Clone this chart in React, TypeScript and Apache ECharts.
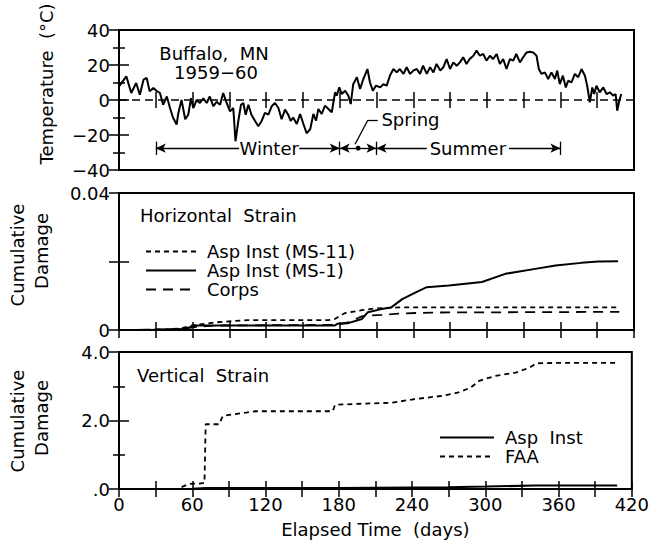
import React, { useEffect, useRef } from 'react';
import * as echarts from 'echarts';

const FONT = '"DejaVu Sans", sans-serif';
const FS = 18;

// ---------- Temperature (top panel) ----------
const tempDays = [
  0, 6, 10, 14, 17, 20, 22.6, 25, 28, 31, 33.4, 36, 39, 41.6, 44, 47, 48.4, 51, 54, 56.5,
  58.7, 60.6, 63.3, 66, 68.8, 71.5, 74, 77, 79.6, 82.4, 85, 87.8, 90.5, 93.2, 95, 97.3, 99.5,
  101.4, 103.3, 105.5, 108, 111, 113.6, 116.3, 119, 121.8, 124.5, 127.2, 130, 132.6, 135.4,
  138, 140, 142, 145, 147.7, 150.4, 153, 156, 158.5, 160.7, 162.6, 165.3, 168, 170.8, 173.5,
  176.2, 177.5, 179.7, 181.6, 184.4, 187, 189, 191, 194, 196.6, 199.3, 202.6, 204.7, 207,
  209.6, 213, 215.6, 218.3, 221, 223.8, 226.5, 229, 232, 234.6, 237.4, 240, 242.8, 245.5,
  248, 251, 253.7, 256.4, 259, 262, 264.5, 267.2, 270, 272.7, 275.4, 278, 280.7, 283.4, 286,
  289, 291.6, 294.3, 297, 299.7, 302.5, 305, 308, 310.6, 313.3, 316, 318.8, 321.5, 324, 327,
  329.6, 332.4, 335, 337.8, 340.5, 342.4, 344.6, 347.3, 350, 352.7, 355.5, 357.4, 359.5, 362,
  364.4, 366.3, 369, 371.8, 374.5, 377.2, 380, 381.8, 384, 386, 387.5, 389.4, 392, 395, 397.6,
  400.3, 403, 405, 406.3, 408, 409.6,
];
const tempValues = [
  7.8, 13.5, 4, 9.7, 3, 11.6, 12.6, 5, 6.9, 5, 4, -2.7, 2, -4.6, -10, -14, -7.4, 0, -11, -8.4,
  1, -4.6, 0, -1.7, 1, -1.7, 2, -3.6, -1, -2.7, 4, -1.7, -6.5, -4.6, -23.6, -12, -2.7,
  -1.7, -8.4, -2.7, -8.4, -12, -15, -12, -7.4, -8.4, -3.6, -1.7, -4.6, -11, -5.5,
  -8.4, -12, -10, -13.7, -8, -13.7, -19, -16.6, -8, -11.8, -5.1, -8, -3.2, -5.1, -7,
  4.4, 2.5, 7.2, 3.4, 5.3, 2.5, -2.3, 9, 13, 6.3, 12, 17.7, 10, 5.3,
  8.2, 7.2, 9, 8.2, 14, 17.7, 15.8, 17.7, 14.9, 18.7, 14.9, 16.8, 17.7, 14.9,
  19.6, 14.9, 18.7, 15.8, 20.6, 16.8, 18.7, 23.4, 17.7, 21.5, 19.6, 21.5, 24.4, 20.6, 23.4,
  25.3, 28.2, 25.3, 26.3, 22.5, 25.3, 23.4, 26.3, 20.6, 23.4, 17.7, 23.4, 22.5, 26.3, 21.5,
  24.4, 27.2, 27.6, 27.2, 25.3, 17.7, 14.9, 15.8, 12, 15.8, 12, 16.8, 9.1, 13.9,
  7.2, 11, 10.1, 14.9, 13, 17.7, 13.9, 8.2, -1.3, 7.2, 3.4, 8.2, 4.4, 7.2, 3.4,
  4.4, 2.5, 3.4, -6.1, -0.4, 3.4,
];

// season annotation (days / °C)
const seasonBounds = [30, 180, 210, 360];
const seasonArrowY = -27.5;
const seasonBarTop = -23.8;
const seasonBarBottom = -31.4;
const seasonArrows = [[98, 30], [147, 180], [195, 180], [195, 210], [251, 210], [318, 360]];
const seasonLabels = ['Winter', 'Summer'];
const seasonLabelDays = [122.5, 284.5];
const springDotDay = 195;
const springLeader = [[192.5, -25.3], [203, -11.4], [211, -11.4]];
const springLabelPos = [214, -11.4];

// ---------- Horizontal strain (middle panel) ----------
const ms1Days = [0, 30, 51, 59, 62, 176, 178, 187, 198, 203, 214, 222, 231, 242, 251, 269, 296, 315, 337, 356, 377, 391, 407];
const ms1Values = [0, 0.0001, 0.0003, 0.0008, 0.0013, 0.0013, 0.0018, 0.002, 0.0032, 0.0052, 0.0061, 0.0066, 0.009, 0.011, 0.0125, 0.013, 0.014, 0.0164, 0.0177, 0.0188, 0.0196, 0.02, 0.0201];
const ms11Days = [0, 30, 50, 59, 78, 105, 171, 176, 184, 198, 209, 228, 408];
const ms11Values = [0, 0.0001, 0.0004, 0.0013, 0.0022, 0.0029, 0.0029, 0.0032, 0.0049, 0.0058, 0.0063, 0.0066, 0.0066];
const corpsDays = [0, 30, 50, 59, 78, 176, 187, 198, 203, 214, 228, 255, 408];
const corpsValues = [0, 0.0001, 0.0003, 0.0008, 0.0013, 0.0015, 0.0022, 0.004, 0.0042, 0.0044, 0.0048, 0.0051, 0.0053];

// ---------- Vertical strain (bottom panel) ----------
const faaDays = [0, 48, 54, 58, 66, 70, 71, 82, 85, 93, 104, 112, 175, 177, 207, 224, 241, 265, 278, 288, 295, 308, 325, 336, 342, 356, 408];
const faaValues = [0, 0, 0.1, 0.15, 0.16, 0.18, 1.89, 1.89, 2.13, 2.18, 2.23, 2.27, 2.27, 2.46, 2.5, 2.52, 2.62, 2.72, 2.82, 2.96, 3.16, 3.3, 3.4, 3.54, 3.67, 3.68, 3.68];
const aspDays = [0, 60, 71, 180, 270, 300, 340, 408];
const aspValues = [0, 0.01, 0.03, 0.03, 0.05, 0.07, 0.1, 0.1];

// ---------- tick labels ----------
const dayTickValues = [0, 60, 120, 180, 240, 300, 360, 420];
const dayTickTexts = ['0', '60', '120', '180', '240', '300', '360', '420'];
const tempTickValues = [40, 20, 0, -20, -40];
const tempTickTexts = ['40', '20', '0', '−20', '−40'];
const hTickValues = [0.04, 0.02, 0];
const hTickTexts = ['0.04', '', '0'];
const vTickValues = [4, 2, 0];
const vTickTexts = ['4.0', '2.0', '.0'];

const pairs = (xs: number[], ys: number[]) => xs.map((x, i) => [x, ys[i]]);
const lookup = (vals: number[], texts: string[]) => (v: number) => {
  const i = vals.findIndex((t) => Math.abs(t - v) < 1e-9);
  return i >= 0 ? texts[i] : '';
};

const BLACK = '#000';

export default function App() {
  const ref = useRef<HTMLDivElement>(null);
  useEffect(() => {
    if (!ref.current) return;
    const chart = echarts.init(ref.current, undefined, { renderer: 'svg' });

    const gridBase = { left: 119, width: 515, show: true, borderColor: BLACK, borderWidth: 2, backgroundColor: 'transparent' };
    const tickStyle = { color: BLACK, width: 1.5 };
    const labelStyle = { color: BLACK, fontSize: FS, fontFamily: FONT };

    const xAxes: any[] = [];
    [0, 1, 2].forEach((g) => {
      xAxes.push({
        type: 'value', gridIndex: g, min: 0, max: 420, interval: 30, position: 'bottom',
        axisLine: { show: false },
        axisTick: { show: true, inside: true, length: 8, lineStyle: tickStyle },
        splitLine: { show: false },
        axisLabel: g === 2
          ? { show: true, margin: 6, ...labelStyle, showMinLabel: true, showMaxLabel: true, formatter: lookup(dayTickValues, dayTickTexts) }
          : { show: false },
        name: g === 2 ? 'Elapsed Time  (days)' : '',
        nameLocation: 'middle', nameGap: 31,
        nameTextStyle: labelStyle,
      });
      xAxes.push({
        type: 'value', gridIndex: g, min: 0, max: 420, interval: 30, position: 'top',
        axisLine: { show: false },
        axisTick: { show: true, inside: true, length: 8, lineStyle: tickStyle },
        splitLine: { show: false },
        axisLabel: { show: false },
      });
    });

    const yDefs = [
      { min: -40, max: 40, interval: 20, fmt: lookup(tempTickValues, tempTickTexts), minor: true },
      { min: 0, max: 0.04, interval: 0.02, fmt: lookup(hTickValues, hTickTexts), minor: false },
      { min: 0, max: 4, interval: 2, fmt: lookup(vTickValues, vTickTexts), minor: true },
    ];
    const yAxes: any[] = [];
    yDefs.forEach((d, g) => {
      [0, 1].forEach((side) => {
        yAxes.push({
          type: 'value', gridIndex: g, min: d.min, max: d.max, interval: d.interval,
          position: side === 0 ? 'left' : 'right',
          axisLine: { show: false },
          axisTick: { show: true, inside: true, length: 10, lineStyle: tickStyle },
          minorTick: { show: d.minor, splitNumber: 2, length: 6, lineStyle: tickStyle },
          splitLine: { show: false },
          minorSplitLine: { show: false },
          axisLabel: side === 0
            ? { show: true, margin: 9, ...labelStyle, showMinLabel: true, showMaxLabel: true, formatter: d.fmt }
            : { show: false },
        });
      });
    });

    const arrowLines: any[] = seasonArrows.map(([from, to]) => [
      { coord: [from, seasonArrowY], symbol: 'none' },
      { coord: [to, seasonArrowY], symbol: 'arrow', symbolSize: [7, 10] },
    ]);
    const barLines: any[] = seasonBounds.map((d) => [
      { coord: [d, seasonBarTop], symbol: 'none' },
      { coord: [d, seasonBarBottom], symbol: 'none' },
    ]);
    const leaderLines: any[] = springLeader.slice(0, -1).map((p, i) => [
      { coord: p, symbol: 'none' },
      { coord: springLeader[i + 1], symbol: 'none' },
    ]);

    const lineSeries = (name: string, xs: number[], ys: number[], idx: number, type: any, width: number) => ({
      name, type: 'line', xAxisIndex: idx, yAxisIndex: idx,
      data: pairs(xs, ys), showSymbol: false, symbol: 'none', silent: true,
      lineStyle: { color: BLACK, width, type },
      itemStyle: { color: BLACK },
      emphasis: { disabled: true },
    });

    const series: any[] = [
      {
        name: 'Temperature', type: 'line', xAxisIndex: 0, yAxisIndex: 0,
        data: pairs(tempDays, tempValues), showSymbol: false, symbol: 'none', silent: true,
        lineStyle: { color: BLACK, width: 2 }, itemStyle: { color: BLACK },
        emphasis: { disabled: true },
        markLine: {
          silent: true, symbol: ['none', 'none'], label: { show: false },
          lineStyle: { color: BLACK, width: 1.3, type: 'solid' },
          emphasis: { disabled: true },
          data: [
            { yAxis: 0, lineStyle: { type: [8, 5], width: 1.6, color: BLACK } },
            ...arrowLines, ...barLines, ...leaderLines,
          ],
        },
        markPoint: {
          silent: true, symbol: 'circle', symbolSize: 0,
          itemStyle: { color: BLACK },
          label: { show: true, position: 'inside', formatter: '{b}', color: BLACK, fontSize: FS, fontFamily: FONT },
          data: [
            ...seasonLabels.map((n, i) => ({ name: n, coord: [seasonLabelDays[i], seasonArrowY] })),
            { name: 'Spring', coord: springLabelPos, label: { position: 'right', distance: 0 } },
            { name: '', coord: [springDotDay, seasonArrowY], symbolSize: 5, label: { show: false } },
          ],
        },
      },
      lineSeries('Asp Inst (MS-11)', ms11Days, ms11Values, 2, [5, 4], 1.8),
      lineSeries('Asp Inst (MS-1)', ms1Days, ms1Values, 2, 'solid', 2),
      lineSeries('Corps', corpsDays, corpsValues, 2, [10, 7], 1.8),
      lineSeries('Asp  Inst', aspDays, aspValues, 4, 'solid', 2),
      lineSeries('FAA', faaDays, faaValues, 4, [5, 4], 1.8),
    ];

    const legendText = { color: BLACK, fontSize: FS, fontFamily: FONT, padding: [0, 0, 0, 6], lineHeight: 19 };
    const legendBase = {
      orient: 'vertical', itemHeight: 12, itemGap: 0, selectedMode: false,
      textStyle: legendText, padding: 0,
      itemStyle: { opacity: 0, borderWidth: 0 },
    };

    const vText = (text: string, x: number, y: number) => ({
      type: 'text', x, y, rotation: Math.PI / 2, silent: true,
      style: { text, fill: BLACK, fontSize: FS, fontFamily: FONT, align: 'center', verticalAlign: 'middle' },
    });
    const hText = (text: string, x: number, y: number, align: string) => ({
      type: 'text', x, y, silent: true,
      style: { text, fill: BLACK, fontSize: FS, fontFamily: FONT, align, verticalAlign: 'middle' },
    });

    chart.setOption({
      animation: false,
      textStyle: { fontFamily: FONT },
      grid: [
        { ...gridBase, top: 30, height: 140 },
        { ...gridBase, top: 193, height: 137 },
        { ...gridBase, top: 352, height: 137 },
      ],
      xAxis: xAxes,
      yAxis: yAxes,
      legend: [
        { ...legendBase, data: ['Asp Inst (MS-11)', 'Asp Inst (MS-1)', 'Corps'], left: 145, top: 242, itemWidth: 50 },
        { ...legendBase, data: ['Asp  Inst', 'FAA'], left: 439, top: 428, itemWidth: 54 },
      ],
      series,
      graphic: [
        vText('Temperature  (°C)', 46, 84),
        vText('Cumulative', 17, 255),
        vText('Damage', 41, 251),
        vText('Cumulative', 17, 421),
        vText('Damage', 41, 418),
        hText('Buffalo,  MN', 214, 53, 'center'),
        hText('1959−60', 216, 72, 'center'),
        hText('Horizontal  Strain', 140, 215, 'left'),
        hText('Vertical  Strain', 137, 375, 'left'),
      ],
    });
    return () => chart.dispose();
  }, []);
  return <div ref={ref} style={{ position: 'absolute', left: 0, top: 0, width: 652, height: 549 }} />;
}
